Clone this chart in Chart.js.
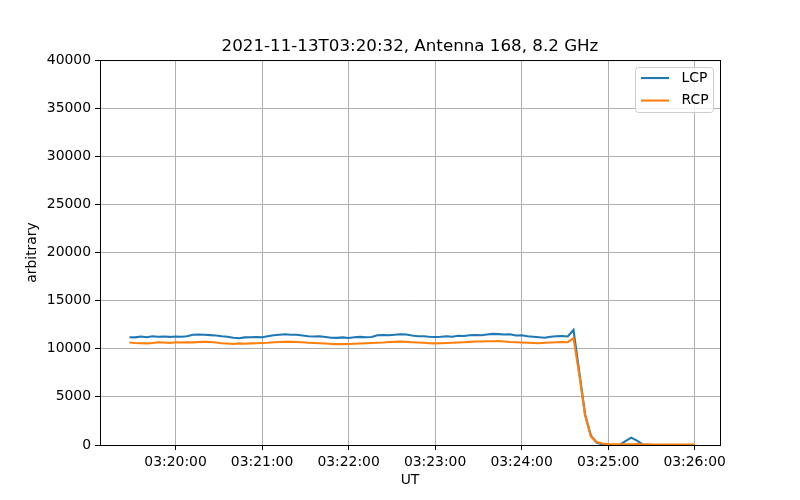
<!DOCTYPE html>
<html>
<head>
<meta charset="utf-8">
<script src="https://cdn.jsdelivr.net/npm/chart.js@4.4.0/dist/chart.umd.min.js"></script>
<style>
  body { margin: 0; background: #fff; }
</style>
</head>
<body>
<canvas id="c" width="800" height="500"></canvas>
<script>
// sampling: first sample time (UT) and cadence in seconds
const startTime = '03:19:28';
const cadence = 4;

const lcpValues = [
  11200, 11180, 11280, 11200, 11300, 11250, 11270, 11230, 11280, 11250, 11300,
  11450, 11480, 11460, 11420, 11380, 11300, 11250, 11150, 11100, 11180,
  11200, 11220, 11200, 11300, 11400, 11450, 11500, 11450, 11460, 11380,
  11300, 11280, 11300, 11220, 11150, 11130, 11180, 11120, 11200, 11230,
  11200, 11220, 11400, 11420, 11400, 11450, 11500, 11480, 11380, 11300,
  11300, 11250, 11220, 11250, 11300, 11250, 11350, 11330, 11400, 11430,
  11400, 11480, 11550, 11520, 11480, 11500, 11380, 11400, 11300, 11250,
  11200, 11150, 11250, 11300, 11320, 11280, 11950,
  7600, 3200, 1000, 250, 60, 20, 0, 20, 400, 760, 450, 60, 10, 5, 0, 5, 0, 0, 5, 0, 0
];

const rcpValues = [
  10650, 10600, 10580, 10560, 10600, 10680, 10650, 10600, 10680, 10650, 10680,
  10660, 10700, 10720, 10700, 10650, 10580, 10550, 10500, 10560, 10520,
  10560, 10580, 10600, 10620, 10680, 10700, 10720, 10720, 10700, 10680,
  10620, 10600, 10580, 10550, 10500, 10480, 10480, 10500, 10520, 10550,
  10580, 10600, 10620, 10650, 10700, 10720, 10750, 10720, 10680, 10650,
  10620, 10580, 10560, 10580, 10600, 10620, 10650, 10680, 10720, 10750,
  10760, 10780, 10780, 10800, 10760, 10700, 10680, 10650, 10620, 10600,
  10580, 10620, 10650, 10680, 10700, 10680, 11100,
  7300, 3100, 900, 300, 150, 100, 80, 70, 60, 60, 90, 80, 60, 50, 50, 50, 50, 40, 40, 40, 40
];

const xTickLabels = ['03:20:00', '03:21:00', '03:22:00', '03:23:00', '03:24:00', '03:25:00', '03:26:00'];
const seriesNames = ['LCP', 'RCP'];
const seriesColors = ['#1f77b4', '#ff7f0e'];

function toSeconds(s) {
  const p = s.split(':').map(Number);
  return p[0] * 3600 + p[1] * 60 + p[2];
}

function toClock(sec) {
  const pad = n => String(n).padStart(2, '0');
  sec = Math.round(sec);
  return pad(Math.floor(sec / 3600)) + ':' + pad(Math.floor(sec / 60) % 60) + ':' + pad(sec % 60);
}

const t0 = toSeconds(startTime);
const toPoints = vals => vals.map((v, i) => ({ x: t0 + i * cadence, y: v }));

// matplotlib-like frame on all four sides
const framePlugin = {
  id: 'frame',
  afterDatasetsDraw(chart) {
    const { ctx, chartArea: a } = chart;
    ctx.save();
    ctx.strokeStyle = '#000';
    ctx.lineWidth = 1;
    ctx.strokeRect(a.left + 0.5, a.top + 0.5, a.right - a.left, a.bottom - a.top);
    ctx.restore();
  }
};

// legend box in the upper right of the axes
const legendBoxPlugin = {
  id: 'legendBox',
  afterDraw(chart) {
    const ctx = chart.ctx;
    const a = chart.chartArea;
    const x = a.right - 84.5, y = a.top + 7.5, w = 78, h = 45;
    ctx.save();
    ctx.beginPath();
    ctx.roundRect(x, y, w, h, 3);
    ctx.fillStyle = 'rgba(255,255,255,0.8)';
    ctx.fill();
    ctx.strokeStyle = '#cccccc';
    ctx.lineWidth = 1;
    ctx.stroke();
    ctx.font = '13.9px "DejaVu Sans"';
    ctx.textBaseline = 'middle';
    seriesNames.forEach((name, i) => {
      const ly = y + 10.5 + i * 22.5;
      ctx.beginPath();
      ctx.moveTo(x + 5.5, ly);
      ctx.lineTo(x + 33.5, ly);
      ctx.strokeStyle = seriesColors[i];
      ctx.lineWidth = 2.1;
      ctx.stroke();
      ctx.fillStyle = '#000';
      ctx.fillText(name, x + 46, ly);
    });
    ctx.restore();
  }
};

Chart.defaults.font.family = '"DejaVu Sans", sans-serif';
Chart.defaults.color = '#000';

const ctx = document.getElementById('c').getContext('2d');
const chart = new Chart(ctx, {
  type: 'line',
  data: {
    datasets: [
      {
        label: seriesNames[0],
        data: toPoints(lcpValues),
        borderColor: seriesColors[0],
        backgroundColor: seriesColors[0],
        borderWidth: 2.1,
        pointRadius: 0,
        tension: 0,
        order: 1
      },
      {
        label: seriesNames[1],
        data: toPoints(rcpValues),
        borderColor: seriesColors[1],
        backgroundColor: seriesColors[1],
        borderWidth: 2.1,
        pointRadius: 0,
        tension: 0,
        order: 0
      }
    ]
  },
  options: {
    responsive: false,
    animation: false,
    devicePixelRatio: 1,
    layout: { padding: { left: 0, right: 80, top: 0, bottom: 0 } },
    plugins: {
      legend: { display: false },
      tooltip: { enabled: false },
      title: {
        display: true,
        text: '2021-11-13T03:20:32, Antenna 168, 8.2 GHz',
        fullSize: false,
        font: { size: 16.7, weight: 'normal' },
        color: '#000',
        padding: { top: 37, bottom: 3 }
      }
    },
    scales: {
      x: {
        type: 'linear',
        min: 11947.6,
        max: 12377.6,
        afterBuildTicks: scale => {
          scale.ticks = xTickLabels.map(s => ({ value: toSeconds(s) }));
        },
        afterFit: scale => { scale.height = 55; },
        ticks: {
          callback: v => toClock(v),
          font: { size: 13.9 },
          maxRotation: 0,
          autoSkip: false,
          padding: 4
        },
        grid: { color: '#b0b0b0', lineWidth: 1, tickLength: 5, tickColor: '#000' },
        border: { color: '#000', width: 1 },
        title: {
          display: true,
          text: 'UT',
          font: { size: 13.9 },
          padding: { top: 0, bottom: 11.5 }
        }
      },
      y: {
        min: 0,
        max: 40000,
        afterFit: scale => { scale.width = 100; },
        ticks: {
          stepSize: 5000,
          callback: v => String(v),
          font: { size: 13.9 },
          padding: 4
        },
        grid: { color: '#b0b0b0', lineWidth: 1, tickLength: 5, tickColor: '#000' },
        border: { color: '#000', width: 1 },
        title: {
          display: true,
          text: 'arbitrary',
          font: { size: 13.9 },
          padding: { top: 24.5, bottom: 0 }
        }
      }
    }
  },
  plugins: [framePlugin, legendBoxPlugin]
});
</script>
</body>
</html>
